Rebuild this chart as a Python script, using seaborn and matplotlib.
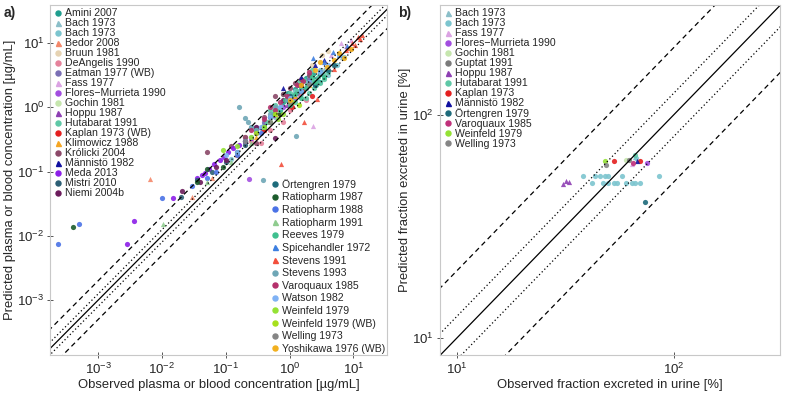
import numpy as np
import seaborn as sns
import matplotlib.pyplot as plt
from matplotlib.ticker import LogLocator, NullFormatter

sns.set_style("white")
plt.rcParams['font.family'] = ['Liberation Sans', 'DejaVu Sans']

# ---- panel a) studies: name, colour, marker, observed, predicted ----
study_names_a = [
    "Amini 2007", "Bach 1973", "Bach 1973", "Bedor 2008", "Bruun 1981",
    "DeAngelis 1990", "Eatman 1977 (WB)", "Fass 1977", "Flores\u2212Murrieta 1990",
    "Gochin 1981", "Hoppu 1987", "Hutabarat 1991", "Kaplan 1973 (WB)",
    "Klimowicz 1988", "Królicki 2004", "Männistö 1982", "Meda 2013",
    "Mistri 2010", "Niemi 2004b",
    "Örtengren 1979", "Ratiopharm 1987", "Ratiopharm 1988", "Ratiopharm 1991",
    "Reeves 1979", "Spicehandler 1972", "Stevens 1991", "Stevens 1993",
    "Varoquaux 1985", "Watson 1982", "Weinfeld 1979", "Weinfeld 1979 (WB)",
    "Welling 1973", "Yoshikawa 1976 (WB)",
]
colors_a = [
    "#1f9e8e", "#8cbfc9", "#7cc5cf", "#f4886a", "#e6d3b3",
    "#e5829b", "#7a6fb5", "#dba3e3", "#a24de0",
    "#c6e6ae", "#8e3fb3", "#5ec8a6", "#e41f1f",
    "#f5a623", "#8b4868", "#1010a0", "#8c1fe8",
    "#2b5e74", "#6b1b5b",
    "#1e6b7b", "#1c5c2c", "#4a72e6", "#8fcc8f",
    "#3fc08f", "#3d7fe0", "#f24f3c", "#6ea6b6",
    "#b5306b", "#7fb2f5", "#94e234", "#a6e01c",
    "#858585", "#f2b01e",
]
markers_a = [
    "o", "^", "o", "^", "o", "o", "o", "^", "o", "o", "^", "o", "o", "^",
    "o", "^", "o", "o", "o",
    "o", "o", "o", "^", "o", "^", "^", "o", "o", "o", "o", "o", "o", "o",
]

amini_2007 = ([0.8, 1.1, 1.5, 2.0, 2.6, 3.0, 1.8, 1.2, 0.6, 0.95, 1.4, 2.3],
              [1.2, 1.5, 1.9, 2.4, 2.8, 2.5, 2.9, 1.9, 0.9, 1.7, 2.2, 3.3])
bach_1973_tri = ([2.0, 3.5, 5.0, 6.5], [2.8, 4.0, 4.6, 6.0])
bach_1973_circ = ([0.25, 0.4, 0.6, 1.0, 1.5, 2.5, 4.0, 5.5, 7.0, 0.12, 0.3, 0.7, 1.2, 2.0, 3.0],
                  [0.5, 0.55, 0.7, 1.2, 1.6, 2.4, 3.2, 4.5, 6.0, 0.16, 0.4, 0.9, 1.8, 3.0, 3.8])
bedor_2008 = ([0.0065, 0.03, 0.06, 0.15, 0.4, 1.0], [0.077, 0.04, 0.08, 0.18, 0.45, 1.1])
bruun_1981 = ([1.5, 2.2, 3.2, 4.0], [2.5, 4.5, 6.5, 7.5])
deangelis_1990 = ([0.25, 0.35, 0.5, 0.7, 1.0, 1.4, 0.2, 0.8, 1.8],
                  [0.3, 0.28, 0.45, 0.8, 0.9, 1.6, 0.35, 0.6, 1.3])
eatman_1977 = ([0.4, 0.6, 0.9, 1.3, 0.3, 2.0], [0.6, 0.9, 1.4, 1.7, 0.5, 2.8])
fass_1977 = ([2.3, 4.5, 6.4, 7.5, 9.0], [0.51, 6.5, 10.0, 9.0, 11.0])
flores_1990 = ([0.23, 0.3, 0.5, 0.8, 1.2, 1.8, 2.5], [0.077, 0.45, 0.7, 1.0, 1.4, 2.0, 2.2])
gochin_1981 = ([0.6, 1.0, 1.6, 2.4], [0.9, 1.3, 1.8, 2.6])
hoppu_1987 = ([0.2, 0.35, 0.55, 0.9], [0.3, 0.5, 0.75, 1.1])
hutabarat_1991 = ([0.5, 0.7, 0.9, 1.1, 1.3, 1.6, 1.9, 2.3, 2.8, 3.3, 4.0, 0.8, 1.2, 1.5, 2.0, 2.6, 3.5,
                   0.6, 1.0, 1.4, 1.7, 2.1, 2.4, 3.0, 0.45, 1.8, 2.2],
                  [0.9, 1.0, 1.3, 1.5, 1.8, 1.9, 2.3, 2.6, 3.0, 3.3, 3.6, 1.6, 1.2, 2.1, 1.7, 2.2, 2.8,
                   1.1, 1.7, 2.5, 2.7, 3.2, 2.0, 2.4, 0.6, 1.4, 3.8])
kaplan_1973 = ([0.4, 0.7, 1.1, 1.6, 2.2], [0.45, 0.8, 1.0, 1.8, 1.5])
klimowicz_1988 = ([0.3, 0.6, 1.2, 2.0], [0.35, 0.8, 1.5, 2.2])
krolicki_2004 = ([0.05, 0.12, 0.3, 0.6, 1.0, 1.5, 0.8, 0.2, 0.4, 1.2, 2.0],
                 [0.2, 0.25, 0.28, 1.5, 2.0, 2.8, 1.6, 0.35, 0.7, 2.4, 3.2])
mannisto_1982 = ([0.8, 1.5, 2.5, 3.5], [2.0, 3.0, 4.5, 5.5])
meda_2013 = ([0.0028, 0.0036, 0.0148, 0.036, 0.042, 0.047, 0.055, 0.065, 0.08, 0.095, 0.11, 0.13, 0.16, 0.2, 0.25, 0.3],
             [0.0075, 0.017, 0.039, 0.08, 0.09, 0.095, 0.11, 0.13, 0.15, 0.17, 0.2, 0.23, 0.26, 0.3, 0.33, 0.4])
mistri_2010 = ([0.02, 0.035, 0.06, 0.1, 0.2, 0.5, 1.5, 3.0], [0.04, 0.075, 0.1, 0.14, 0.26, 0.6, 1.8, 3.3])
niemi_2004b = ([0.021, 0.1, 0.3, 0.58, 0.04, 0.07, 0.2, 0.8, 1.5],
               [0.05, 0.15, 0.5, 0.34, 0.07, 0.12, 0.3, 1.3, 2.2])
ortengren_1979 = ([0.5, 1.0, 2.0, 3.0, 4.0, 1.5, 2.5, 5.0], [0.7, 1.5, 2.5, 3.5, 3.8, 1.8, 2.2, 4.5])
ratiopharm_1987 = ([0.00041, 0.035, 0.05, 0.09, 0.15, 0.4, 0.7, 1.0],
                   [0.0138, 0.07, 0.11, 0.12, 0.2, 0.5, 0.8, 1.3])
ratiopharm_1988 = ([0.00024, 0.0005, 0.01, 0.03, 0.07, 0.15, 0.35, 0.05, 0.2],
                   [0.0075, 0.0153, 0.039, 0.06, 0.1, 0.18, 0.4, 0.08, 0.3])
ratiopharm_1991 = ([0.0103, 0.05, 0.12, 0.25], [0.0153, 0.07, 0.14, 0.28])
reeves_1979 = ([0.4, 0.7, 1.0, 1.5, 2.5, 3.5, 0.3, 0.55, 0.85, 1.2, 1.8, 2.2, 3.0],
               [0.5, 0.9, 1.1, 1.4, 2.5, 3.0, 0.45, 0.8, 1.3, 1.6, 2.0, 3.0, 3.4])
spicehandler_1972 = ([2.3, 3.5, 4.7, 6.0, 8.0], [5.8, 5.0, 7.2, 6.5, 9.0])
stevens_1991 = ([0.72, 1.66, 2.7, 5.0, 7.7, 8.5, 9.5, 10.5, 11.6, 12.5, 13.5],
                [0.13, 0.59, 1.35, 4.0, 7.8, 8.5, 10.0, 9.5, 12.4, 11.5, 13.3])
stevens_1993 = ([0.16, 0.2, 0.22, 0.38, 1.24, 0.3, 0.5, 0.25, 0.6, 0.9],
                [1.0, 0.68, 0.6, 0.074, 0.36, 0.45, 0.8, 0.5, 1.0, 1.3])
varoquaux_1985 = ([0.25, 0.4, 0.6, 0.9, 1.3, 2.0, 1.0, 0.5, 0.7, 1.6],
                  [0.45, 0.65, 0.9, 1.5, 2.2, 3.5, 1.3, 1.0, 1.2, 2.6])
watson_1982 = ([0.1, 0.25, 0.5, 1.0, 2.0, 4.0, 6.0, 0.15, 0.35, 0.7, 1.5, 3.0],
               [0.18, 0.35, 0.7, 1.4, 2.5, 4.5, 6.5, 0.2, 0.5, 1.0, 1.8, 3.5])
weinfeld_1979 = ([0.09, 0.25, 0.5, 0.8, 1.1, 0.15, 0.4, 0.65], [0.22, 0.35, 0.6, 0.8, 1.2, 0.25, 0.5, 0.65])
weinfeld_1979_wb = ([0.3, 0.6, 1.0, 1.4], [0.4, 0.8, 1.2, 1.1])
welling_1973 = ([0.2, 0.5, 1.0, 2.0], [0.3, 0.6, 1.2, 2.3])
yoshikawa_1976 = ([1.5, 2.5, 3.8, 5.0, 7.2, 9.0, 3.0, 6.0, 1.0], [2.2, 3.8, 4.2, 5.5, 5.8, 8.0, 5.0, 7.0, 1.3])

data_a = [
    amini_2007, bach_1973_tri, bach_1973_circ, bedor_2008, bruun_1981,
    deangelis_1990, eatman_1977, fass_1977, flores_1990, gochin_1981,
    hoppu_1987, hutabarat_1991, kaplan_1973, klimowicz_1988, krolicki_2004,
    mannisto_1982, meda_2013, mistri_2010, niemi_2004b,
    ortengren_1979, ratiopharm_1987, ratiopharm_1988, ratiopharm_1991,
    reeves_1979, spicehandler_1972, stevens_1991, stevens_1993,
    varoquaux_1985, watson_1982, weinfeld_1979, weinfeld_1979_wb,
    welling_1973, yoshikawa_1976,
]

# ---- panel b) fraction excreted in urine ----
study_names_b = [
    "Bach 1973", "Bach 1973", "Fass 1977", "Flores\u2212Murrieta 1990",
    "Gochin 1981", "Guptat 1991", "Hoppu 1987", "Hutabarat 1991",
    "Kaplan 1973", "Männistö 1982", "Örtengren 1979", "Varoquaux 1985",
    "Weinfeld 1979", "Welling 1973",
]
colors_b = [
    "#8cbfc9", "#7cc5cf", "#dba3e3", "#a24de0", "#c6e6ae", "#7a7a7a",
    "#8e3fb3", "#5ec8a6", "#e41f1f", "#1010a0", "#1e6b7b", "#c0307a",
    "#94e234", "#858585",
]
markers_b = ["^", "o", "^", "o", "o", "o", "^", "o", "o", "^", "o", "o", "o", "o"]

fe_bach_tri = ([66], [65])
fe_bach_circ = ([38.2, 43.3, 45.6, 48, 50, 58, 86, 42, 47, 50, 53, 55, 60, 64, 66, 70, 67],
                [53, 53, 53, 53, 53, 53, 53, 49.4, 49.4, 49.4, 49.4, 49.4, 49.4, 49.4, 49.4, 49.4, 64])
fe_fass = ([64], [60])
fe_flores = ([75], [61])
fe_gochin = ([60], [63])
fe_guptat = ([62], [63])
fe_hoppu = ([31, 32, 33], [49, 50.5, 50])
fe_hutabarat = ([66], [66])
fe_kaplan = ([53, 70], [62, 62])
fe_mannisto = ([68], [62])
fe_ortengren = ([74], [40.6])
fe_varoquaux = ([65], [61])
fe_weinfeld = ([48], [62])
fe_welling = ([49], [59.6])

data_b = [
    fe_bach_tri, fe_bach_circ, fe_fass, fe_flores, fe_gochin, fe_guptat,
    fe_hoppu, fe_hutabarat, fe_kaplan, fe_mannisto, fe_ortengren,
    fe_varoquaux, fe_weinfeld, fe_welling,
]

xlims_a = [1.8e-4, 33]
ylims_a = [1.4e-4, 39]
lims_b = [8.4, 310]


def draw_panel(ax, names, colors, markers, data, xlims, ylims):
    handles = []
    for name, col, mk, (obs, pred) in zip(names, colors, markers, data):
        sns.scatterplot(x=obs, y=pred, color=col, marker=mk, s=14,
                        linewidth=0, alpha=0.9, ax=ax, legend=False)
        handles.append(plt.Line2D([], [], ls="", marker=mk, color=col,
                                  markersize=3.6, label=name))
    ref = np.array([1e-5, 1e4])
    ax.plot(ref, ref, color="black", lw=0.9)
    for f in (1.25, 1 / 1.25):
        ax.plot(ref, ref * f, color="black", lw=0.9, ls=(0, (1, 2)))
    for f in (2.0, 0.5):
        ax.plot(ref, ref * f, color="black", lw=0.9, ls=(0, (4, 3)))
    ax.set_xscale("log")
    ax.set_yscale("log")
    ax.set_xlim(xlims)
    ax.set_ylim(ylims)
    for sp in ax.spines.values():
        sp.set_color("#c8c8c8")
        sp.set_linewidth(0.8)
    for axis in (ax.xaxis, ax.yaxis):
        axis.set_major_locator(LogLocator(base=10, numticks=20))
        axis.set_minor_locator(LogLocator(base=10, subs=np.arange(2, 10), numticks=20))
        axis.set_minor_formatter(NullFormatter())
    ax.tick_params(which="major", direction="inout", length=5, width=0.7,
                   color="#555555", labelsize=9.5, pad=2)
    ax.tick_params(which="minor", direction="in", length=2.5, width=0.5,
                   color="#777777")
    ax.tick_params(bottom=True, left=True)
    return handles


fig = plt.figure(figsize=(7.89, 3.95), dpi=100)
ax_a = fig.add_axes([0.064, 0.101, 0.426, 0.886])
ax_b = fig.add_axes([0.558, 0.101, 0.431, 0.886])

h_a = draw_panel(ax_a, study_names_a, colors_a, markers_a, data_a, xlims_a, ylims_a)
h_b = draw_panel(ax_b, study_names_b, colors_b, markers_b, data_b, lims_b, lims_b)

leg_kw = dict(frameon=False, fontsize=7.6, labelspacing=0.0, handletextpad=0.3,
              handlelength=0.8, borderaxespad=0.2, borderpad=0.1)
leg1 = ax_a.legend(handles=h_a[:19], loc="upper left", **leg_kw)
ax_a.add_artist(leg1)
leg2_kw = dict(leg_kw, labelspacing=0.25, borderaxespad=0.0)
ax_a.legend(handles=h_a[19:], loc="lower right", **leg2_kw)
ax_b.legend(handles=h_b, loc="upper left", **leg_kw)

ax_a.set_xlabel("Observed plasma or blood concentration [µg/mL]", fontsize=9.4, labelpad=2)
ax_a.set_ylabel("Predicted plasma or blood concentration [µg/mL]", fontsize=9.4, labelpad=1)
ax_b.set_xlabel("Observed fraction excreted in urine [%]", fontsize=9.4, labelpad=2)
ax_b.set_ylabel("Predicted fraction excreted in urine [%]", fontsize=9.4, labelpad=1)

fig.text(0.005, 0.985, "a)", fontsize=10, fontweight="bold", va="top")
fig.text(0.505, 0.985, "b)", fontsize=10, fontweight="bold", va="top")

fig.savefig("out.png", dpi=100)
